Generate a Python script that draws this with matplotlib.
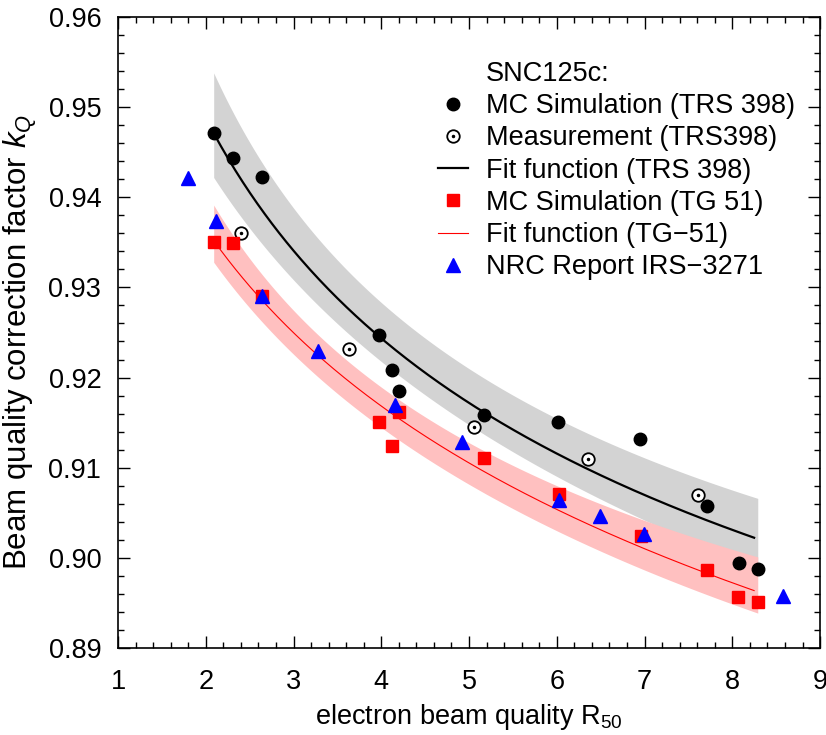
import matplotlib
matplotlib.use("Agg")
import matplotlib.pyplot as plt
from matplotlib.lines import Line2D
from matplotlib.ticker import MultipleLocator, FormatStrFormatter
import numpy as np

plt.rcParams["font.family"] = ["Liberation Sans", "DejaVu Sans"]
plt.rcParams["mathtext.fontset"] = "custom"
plt.rcParams["mathtext.rm"] = "Liberation Sans"
plt.rcParams["mathtext.it"] = "Liberation Sans:italic"

FS = 19.5

# MC simulation, TRS 398 formalism
r50_mc_trs = [2.09, 2.31, 2.64, 3.97, 4.12, 4.20, 5.17, 6.01, 6.95, 7.71, 8.08, 8.29]
kq_mc_trs = [0.9471, 0.9444, 0.9422, 0.9247, 0.9208, 0.9185, 0.9159, 0.9151, 0.9132, 0.9057, 0.8994, 0.8988]

# measurement (TRS398)
r50_meas = [2.40, 3.63, 5.06, 6.36, 7.61]
kq_meas = [0.9360, 0.9232, 0.9145, 0.9110, 0.9070]

# MC simulation, TG-51 formalism
r50_mc_tg = [2.09, 2.31, 2.64, 3.97, 4.12, 4.20, 5.17, 6.03, 6.96, 7.71, 8.07, 8.29]
kq_mc_tg = [0.9350, 0.9349, 0.9290, 0.9151, 0.9124, 0.9162, 0.9111, 0.9071, 0.9024, 0.8987, 0.8957, 0.8951]

# NRC report IRS-3271
r50_nrc = [1.80, 2.12, 2.64, 3.28, 4.16, 4.92, 6.03, 6.49, 6.99, 8.58]
kq_nrc = [0.9421, 0.9374, 0.9290, 0.9230, 0.9169, 0.9128, 0.9064, 0.9046, 0.9026, 0.8958]

# fit parameters: kQ = a + b * R50^p   (p = 0 -> a + b * ln R50)
fit_trs = (0.7602, 0.2166, -0.2)
fit_trs_hi = (0.8424, 0.1496, -0.4)
fit_trs_lo = (0.96538, -0.03145, 0)
fit_tg = (0.95604, -0.02828, 0)
fit_tg_hi = (0.8135, 0.1533, -0.27)
fit_tg_lo = (0.95362, -0.02825, 0)
fit_range = (2.09, 8.29)


def kq(x, prm):
    a, b, p = prm
    if p == 0:
        return a + b * np.log(x)
    return a + b * x ** p


fig = plt.figure(figsize=(8.26, 7.35), dpi=100)
ax = fig.add_axes([0.1429, 0.1184, 0.8499, 0.8585])

xx = np.linspace(fit_range[0], fit_range[1], 300)

ax.fill_between(xx, kq(xx, fit_trs_lo), kq(xx, fit_trs_hi), color="#d3d3d3", lw=0, zorder=1)
ax.fill_between(xx, kq(xx, fit_tg_lo), kq(xx, fit_tg_hi), color="#ffc0c0", lw=0, zorder=2)

ax.plot(xx[:-2], kq(xx[:-2], fit_trs), color="black", lw=1.6, zorder=3)
ax.plot(xx[:-2], kq(xx[:-2], fit_tg), color="red", lw=0.8, zorder=3)

ax.plot(r50_mc_trs, kq_mc_trs, "o", color="black", ms=9, zorder=4)
ax.plot(r50_meas, kq_meas, "o", mfc="white", mec="black", mew=1.3, ms=9, zorder=4)
ax.plot(r50_meas, kq_meas, "o", color="black", ms=1.5, zorder=5)
ax.plot(r50_mc_tg, kq_mc_tg, "s", color="red", ms=9, zorder=5)
ax.plot(r50_nrc, kq_nrc, "^", color="blue", ms=10, zorder=6)

ax.set_xlim(1, 9)
ax.set_ylim(0.89, 0.96)
ax.xaxis.set_major_locator(MultipleLocator(1))
ax.xaxis.set_minor_locator(MultipleLocator(0.2))
ax.yaxis.set_major_locator(MultipleLocator(0.01))
ax.yaxis.set_minor_locator(MultipleLocator(0.002))
ax.yaxis.set_major_formatter(FormatStrFormatter("%.2f"))
ax.tick_params(which="both", direction="in", top=True, right=True, labelsize=FS, width=1.0)
ax.tick_params(which="major", length=8.5)
ax.tick_params(which="minor", length=4.3)
ax.tick_params(axis="x", which="major", pad=15)
ax.tick_params(axis="y", which="major", pad=12)
for s in ax.spines.values():
    s.set_linewidth(1.2)

ax.set_xlabel(r"electron beam quality R$_{\mathrm{50}}$", fontsize=FS)
ax.set_ylabel(r"Beam quality correction factor $k_Q$", fontsize=22.5)
ax.xaxis.set_label_coords(0.5, -0.085)
ax.yaxis.set_label_coords(-0.112, 0.485)

handles = [
    Line2D([], [], linestyle="none"),
    Line2D([], [], marker="o", color="black", ls="none", ms=9),
    (Line2D([], [], marker="o", mfc="white", mec="black", mew=1.3, ls="none", ms=9),
     Line2D([], [], marker="o", color="black", ls="none", ms=1.5)),
    Line2D([], [], color="black", lw=1.6),
    Line2D([], [], marker="s", color="red", ls="none", ms=9),
    Line2D([], [], color="red", lw=0.8),
    Line2D([], [], marker="^", color="blue", ls="none", ms=10),
]
labels = [
    "SNC125c:",
    "MC Simulation (TRS 398)",
    "Measurement (TRS398)",
    "Fit function (TRS 398)",
    "MC Simulation (TG 51)",
    "Fit function (TG\u221251)",
    "NRC Report IRS\u22123271",
]
ax.legend(handles, labels, loc="upper left", bbox_to_anchor=(438 / 826, 1 - 61 / 735),
          bbox_transform=fig.transFigure, frameon=False, fontsize=FS,
          handlelength=1.1, handletextpad=0.68, labelspacing=0.23, borderpad=0, borderaxespad=0)

fig.savefig("out.png", dpi=100)
